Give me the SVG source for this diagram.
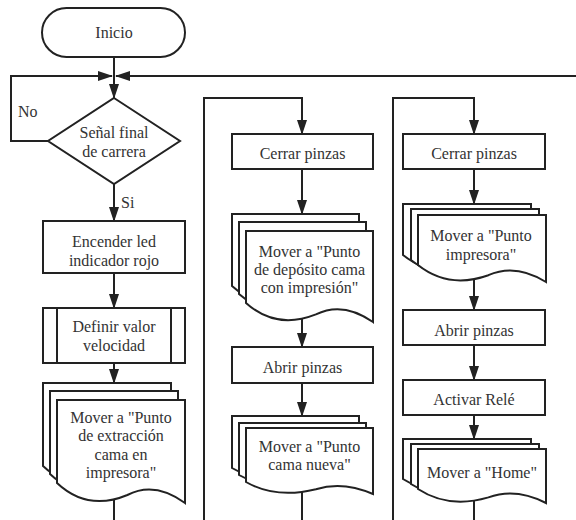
<svg xmlns="http://www.w3.org/2000/svg" width="576" height="520" viewBox="0 0 576 520">
<style>
.s{fill:#fff;stroke:#222;stroke-width:2}
.c{fill:none;stroke:#222;stroke-width:2}
text{font-family:'Liberation Serif','Times New Roman','DejaVu Serif',serif;font-size:16px;fill:#333}
.t{text-anchor:middle}
</style>
<defs>
<marker id="a" markerUnits="userSpaceOnUse" viewBox="0 0 15 10" markerWidth="15" markerHeight="10" refX="14" refY="5" orient="auto"><path d="M0,0 L15,5 L0,10 z" fill="#222"/></marker>
</defs>
<rect width="576" height="520" fill="#fff"/>
<g id="connectors">
<path class="c" d="M114,57 V98" marker-end="url(#a)"/>
<path class="c" d="M48,141 H11 V76 H112" marker-end="url(#a)"/>
<path class="c" d="M576,76 H116" marker-end="url(#a)"/>
<path class="c" d="M114,184 V221" marker-end="url(#a)"/>
<path class="c" d="M114,273 V308" marker-end="url(#a)"/>
<path class="c" d="M114,363 V383" marker-end="url(#a)"/>
<path class="c" d="M114,499 V520"/>
<path class="c" d="M204,520 V98 H302 V134" marker-end="url(#a)"/>
<path class="c" d="M302,169 V214" marker-end="url(#a)"/>
<path class="c" d="M302,318 V347" marker-end="url(#a)"/>
<path class="c" d="M302,383 V416" marker-end="url(#a)"/>
<path class="c" d="M302,491 V520"/>
<path class="c" d="M393,520 V98 H474 V134" marker-end="url(#a)"/>
<path class="c" d="M474,169 V204" marker-end="url(#a)"/>
<path class="c" d="M474,278 V310" marker-end="url(#a)"/>
<path class="c" d="M474,345 V380" marker-end="url(#a)"/>
<path class="c" d="M474,415 V439" marker-end="url(#a)"/>
<path class="c" d="M474,500 V520"/>
<text font-family="Liberation Serif, serif" x="18" y="117">No</text>
<text font-family="Liberation Serif, serif" x="121" y="208">Si</text>
</g>
<g id="inicio">
<rect class="s" x="42" y="8" width="143" height="49" rx="24.5"/>
<text class="t" x="114" y="38">Inicio</text>
</g>
<g id="senal">
<polygon class="s" points="114,98 180,141 114,184 48,141"/>
<text class="t" x="114" y="138">Señal final</text>
<text class="t" x="114" y="157">de carrera</text>
</g>
<g id="encender">
<rect class="s" x="43" y="221" width="142" height="52"/>
<text class="t" x="114" y="247">Encender led</text>
<text class="t" x="114" y="266">indicador rojo</text>
</g>
<g id="definir">
<rect class="s" x="43" y="308" width="142" height="55"/>
<path class="c" d="M57,308 V363 M171,308 V363"/>
<text class="t" x="114" y="332">Definir valor</text>
<text class="t" x="114" y="351">velocidad</text>
</g>
<g id="mover1">
<path class="s" d="M43,383 H171 V486 C151.8,472 132.6,468 113.4,478 C94.2,486 68.6,490 43,466 Z"/>
<path class="s" d="M50,391 H178 V494 C158.8,480 139.6,476 120.4,486 C101.2,494 75.6,498 50,474 Z"/>
<path class="s" d="M57,400 H185 V503 C165.8,489 146.6,485 127.4,495 C108.2,503 82.6,507 57,483 Z"/>
<text class="t" x="121" y="423">Mover a "Punto</text>
<text class="t" x="121" y="441">de extracción</text>
<text class="t" x="121" y="460">cama en</text>
<text class="t" x="121" y="478">impresora"</text>
</g>
<g id="cerrar1">
<rect class="s" x="232" y="134" width="141" height="35"/>
<text class="t" x="302.5" y="159">Cerrar pinzas</text>
</g>
<g id="mover2">
<path class="s" d="M232,214 H359 V305 C340,291.7 320.9,287.9 301.9,297.4 C282.8,305 257.4,308.8 232,286 Z"/>
<path class="s" d="M239,222 H366 V313 C347,299.7 327.9,295.9 308.9,305.4 C289.8,313 264.4,316.8 239,294 Z"/>
<path class="s" d="M246,231 H373 V322 C354,308.7 334.9,304.9 315.9,314.4 C296.8,322 271.4,325.8 246,303 Z"/>
<text class="t" x="309.5" y="257">Mover a "Punto</text>
<text class="t" x="309.5" y="275">de depósito cama</text>
<text class="t" x="309.5" y="293">con impresión"</text>
</g>
<g id="abrir1">
<rect class="s" x="232" y="347" width="141" height="36"/>
<text class="t" x="302.5" y="373">Abrir pinzas</text>
</g>
<g id="mover3">
<path class="s" d="M232,416 H359 V480 C340,471.6 320.9,469.2 301.9,475.2 C282.8,480 257.4,482.4 232,468 Z"/>
<path class="s" d="M239,423 H366 V487 C347,478.6 327.9,476.2 308.9,482.2 C289.8,487 264.4,489.4 239,475 Z"/>
<path class="s" d="M246,428 H373 V494 C354,485.6 334.9,483.2 315.9,489.2 C296.8,494 271.4,496.4 246,482 Z"/>
<text class="t" x="309.5" y="452">Mover a "Punto</text>
<text class="t" x="309.5" y="470">cama nueva"</text>
</g>
<g id="cerrar2">
<rect class="s" x="403" y="134" width="142" height="35"/>
<text class="t" x="474" y="159">Cerrar pinzas</text>
</g>
<g id="mover4">
<path class="s" d="M403,204 H531 V272 C511.8,260.1 492.6,256.7 473.4,265.2 C454.2,272 428.6,275.4 403,255 Z"/>
<path class="s" d="M411,209 H539 V277 C519.8,265.1 500.6,261.7 481.4,270.2 C462.2,277 436.6,280.4 411,260 Z"/>
<path class="s" d="M418,215 H546 V282 C526.8,270.1 507.6,266.7 488.4,275.2 C469.2,282 443.6,285.4 418,265 Z"/>
<text class="t" x="481" y="241">Mover a "Punto</text>
<text class="t" x="481" y="260">impresora"</text>
</g>
<g id="abrir2">
<rect class="s" x="403" y="310" width="142" height="35"/>
<text class="t" x="474" y="336">Abrir pinzas</text>
</g>
<g id="activar">
<rect class="s" x="403" y="380" width="142" height="35"/>
<text class="t" x="474" y="405">Activar Relé</text>
</g>
<g id="mover5">
<path class="s" d="M403,439 H531 V493 C511.8,483.2 492.6,480.4 473.4,487.4 C454.2,493 428.6,495.8 403,479 Z"/>
<path class="s" d="M411,444 H539 V498 C519.8,488.2 500.6,485.4 481.4,492.4 C462.2,498 436.6,500.8 411,484 Z"/>
<path class="s" d="M418,449 H546 V503 C526.8,493.2 507.6,490.4 488.4,497.4 C469.2,503 443.6,505.8 418,489 Z"/>
<text class="t" x="482" y="478">Mover a "Home"</text>
</g>
</svg>
